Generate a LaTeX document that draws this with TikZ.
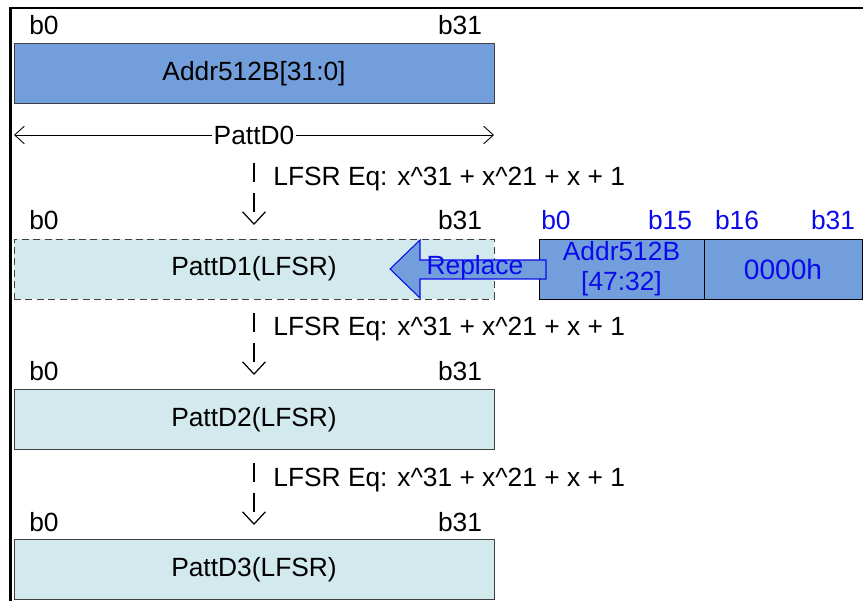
\documentclass[tikz,border=0pt]{standalone}
\usepackage{fontspec}
\setmainfont{Liberation Sans}
\usetikzlibrary{arrows.meta}

\definecolor{addrblue}{RGB}{114,159,219}
\definecolor{pattcyan}{RGB}{210,233,238}
\definecolor{boxline}{RGB}{64,64,64}
\definecolor{bitblue}{RGB}{10,10,235}

\begin{document}
\begin{tikzpicture}[x=0.02cm, y=-0.02cm, font=\fontsize{15}{17}\selectfont,
  word/.style={draw=boxline, minimum width=9.6cm, minimum height=1.2cm, inner sep=0pt},
  half/.style={draw=black, fill=addrblue, text=bitblue, minimum height=1.2cm, inner sep=0pt, align=center},
  bit/.style={anchor=base},
  lfsr/.style={-{Straight Barb[length=7pt, width=13pt]}, line width=0.7pt, dash pattern=on 11pt off 6pt},
  eq/.style={anchor=base west, inner sep=0pt}]
\useasboundingbox (0,0) rectangle (863,601);

%%%  nodes

% frame
\draw [line width=1.6pt] (10.5,601) -- (10.5,8) -- (863,8);

% word nodes
\node [word, fill=addrblue] (w0) at (254,73.5) {Addr512B[31:0]};
\node [word, fill=pattcyan, dash pattern=on 4pt off 2.5pt] (w1) at (254,269) {PattD1(LFSR)};
\node [word, fill=pattcyan] (w2) at (254,419.5) {PattD2(LFSR)};
\node [word, fill=pattcyan] (w3) at (254,569.5) {PattD3(LFSR)};

% upper address nodes
\node [half, minimum width=3.3cm] (hi) at (621.5,269) {Addr512B\\{[47:32]}};
\node [half, minimum width=3.16cm, font=\fontsize{16}{18}\selectfont] (zero) at (783,269) {0000h};

% bit label nodes
\node [bit] (w0b0) at (44,35) {b0};
\node [bit] (w0b31) at (460,35) {b31};
\node [bit] (w1b0) at (44,230) {b0};
\node [bit] (w1b31) at (460,230) {b31};
\node [bit] (w2b0) at (44,381) {b0};
\node [bit] (w2b31) at (460,381) {b31};
\node [bit] (w3b0) at (44,531) {b0};
\node [bit] (w3b31) at (460,531) {b31};

\node [bit, text=bitblue] (hib0) at (556,230) {b0};
\node [bit, text=bitblue] (hib15) at (670,230) {b15};
\node [bit, text=bitblue] (zerob16) at (737,230) {b16};
\node [bit, text=bitblue] (zerob31) at (833,230) {b31};

% arrow end points
\coordinate (d0l) at (14,135);
\coordinate (d0r) at (494,135);
\coordinate (s1) at (254,163);
\coordinate (t1) at (254,225);
\coordinate (s2) at (254,313);
\coordinate (t2) at (254,375);
\coordinate (s3) at (254,463);
\coordinate (t3) at (254,525);

%%% edges

% PattD0 width
\draw [{Straight Barb[length=5.5pt, width=10pt]}-{Straight Barb[length=5.5pt, width=10pt]}, line width=0.5pt] (d0l) -- (d0r)
  node [midway, fill=white, inner sep=1pt] (d0) {PattD0};

% LFSR steps
\draw [lfsr] (s1) -- (t1);
\node [eq] (eq1) at (273,186) {LFSR Eq: x\^{}31 + x\^{}21 + x + 1};
\draw [lfsr] (s2) -- (t2);
\node [eq] (eq2) at (273,336) {LFSR Eq: x\^{}31 + x\^{}21 + x + 1};
\draw [lfsr] (s3) -- (t3);
\node [eq] (eq3) at (273,486) {LFSR Eq: x\^{}31 + x\^{}21 + x + 1};

% replace arrow
\draw [draw=bitblue, fill=addrblue, line width=0.6pt] (390,269) -- (420,240) -- (420,260) -- (546,260)
  -- (546,279) -- (420,279) -- (420,298) -- cycle;
\node [text=bitblue] (rep) at (475,268) {Replace};
\end{tikzpicture}
\end{document}
